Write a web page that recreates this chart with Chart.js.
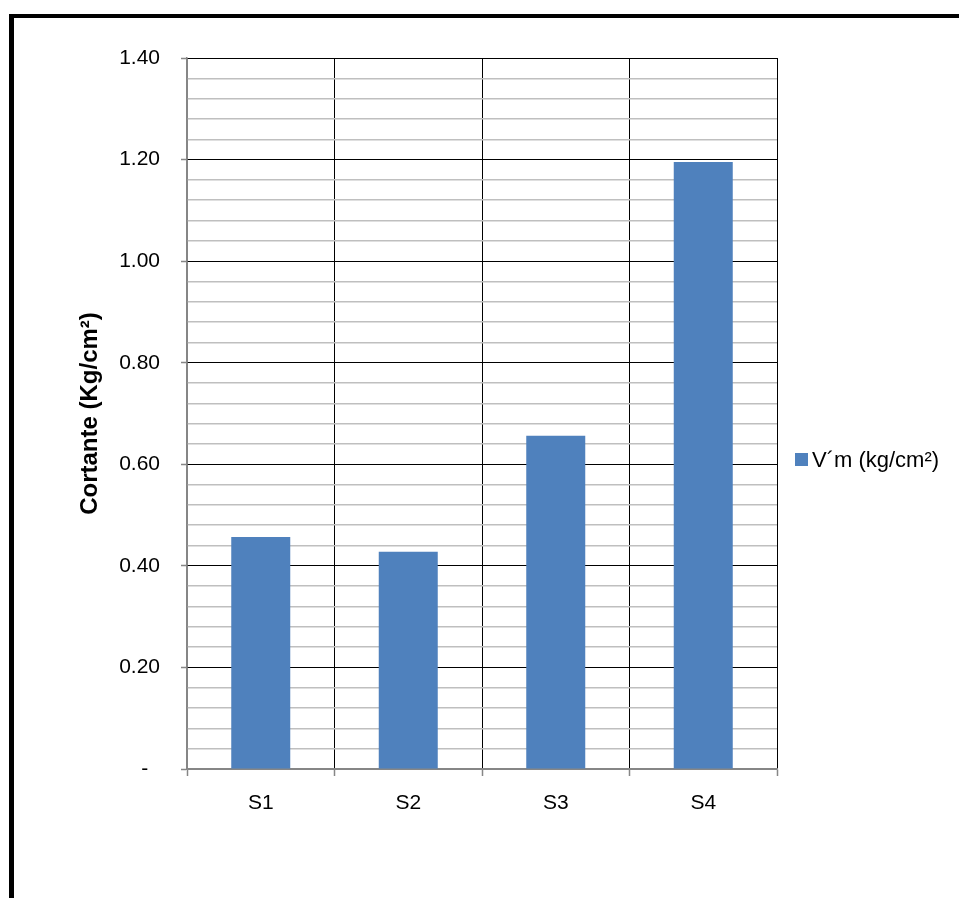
<!DOCTYPE html>
<html>
<head>
<meta charset="utf-8">
<script src="https://cdn.jsdelivr.net/npm/chart.js@4/dist/chart.umd.min.js"></script>
<style>
  html, body { margin: 0; padding: 0; background: #fff; }
  #wrap { width: 959px; height: 898px; position: relative; }
</style>
</head>
<body>
<div id="wrap"><canvas id="chart" width="959" height="898"></canvas></div>
<script>
// data
const categories = ["S1", "S2", "S3", "S4"];
const shearValues = [0.457, 0.428, 0.656, 1.195];
const seriesLabel = "V\u00B4m (kg/cm\u00B2)";
const axisTitle = "Cortante (Kg/cm\u00B2)";
const yMax = 1.4;
const minorStep = 0.04;
const majorStep = 0.2;

const FONT = "'Liberation Sans', Arial, sans-serif";
const barColor = "#4F81BD";
const axisGray = "#868686";
const minorGray = "#bfbfbf";

function isMajor(v) {
  const r = v / majorStep;
  return Math.abs(r - Math.round(r)) < 1e-6;
}

// outer frame and legend on the right
const extrasPlugin = {
  id: "extras",
  beforeDraw(chart) {
    const ctx = chart.ctx;
    ctx.save();
    ctx.fillStyle = "#fff";
    ctx.fillRect(0, 0, chart.width, chart.height);
    ctx.fillStyle = "#000";
    ctx.fillRect(9, 14, chart.width, 4);
    ctx.fillRect(9, 14, 5, chart.height);
    ctx.restore();
  },
  afterDraw(chart) {
    const ctx = chart.ctx;
    const ds = chart.data.datasets[0];
    ctx.save();
    ctx.fillStyle = ds.backgroundColor;
    ctx.fillRect(795, 453, 13, 13);
    ctx.fillStyle = "#000";
    ctx.font = "22px " + FONT;
    ctx.textBaseline = "middle";
    ctx.textAlign = "left";
    ctx.fillText(ds.label, 812, 461);
    ctx.restore();
  }
};

const ctx = document.getElementById("chart").getContext("2d");
new Chart(ctx, {
  type: "bar",
  data: {
    labels: categories,
    datasets: [{
      label: seriesLabel,
      data: shearValues,
      backgroundColor: barColor,
      categoryPercentage: 1,
      barPercentage: 0.4
    }]
  },
  options: {
    responsive: false,
    animation: false,
    layout: { padding: { left: 0, top: 58, right: 182, bottom: 0 } },
    plugins: { legend: { display: false }, tooltip: { enabled: false } },
    scales: {
      x: {
        afterFit(scale) { scale.height = 129; },
        grid: {
          offset: true,
          color: (c) => (c.index === 0 ? axisGray : "#000"),
          lineWidth: 1,
          tickColor: axisGray,
          tickLength: 7,
          tickWidth: 1.5
        },
        border: { color: axisGray, width: 1.5 },
        ticks: {
          color: "#000",
          font: { family: FONT, size: 21 },
          padding: 15
        }
      },
      y: {
        min: 0,
        max: yMax,
        afterFit(scale) { scale.width = 187; },
        grid: {
          color: (c) => {
            const v = c.tick ? c.tick.value : 0;
            if (v < 1e-9) return axisGray;
            return isMajor(v) ? "#000" : minorGray;
          },
          lineWidth: (c) => {
            const v = c.tick ? c.tick.value : 0;
            return isMajor(v) ? 1 : 1.5;
          },
          tickColor: (c) => {
            const v = c.tick ? c.tick.value : 0;
            return isMajor(v) ? axisGray : "rgba(0,0,0,0)";
          },
          tickLength: 6,
          tickWidth: 1.5
        },
        border: { color: axisGray, width: 1.5 },
        ticks: {
          stepSize: minorStep,
          autoSkip: false,
          color: "#000",
          font: { family: FONT, size: 21 },
          padding: 21,
          callback: (v) => {
            if (!isMajor(v)) return "";
            if (v < 1e-9) return "-  ";
            return v.toFixed(2);
          }
        },
        title: {
          display: true,
          text: axisTitle,
          color: "#000",
          font: { family: FONT, size: 24, weight: "bold" },
          padding: { top: 76, bottom: 0 }
        }
      }
    }
  },
  plugins: [extrasPlugin]
});
</script>
</body>
</html>
